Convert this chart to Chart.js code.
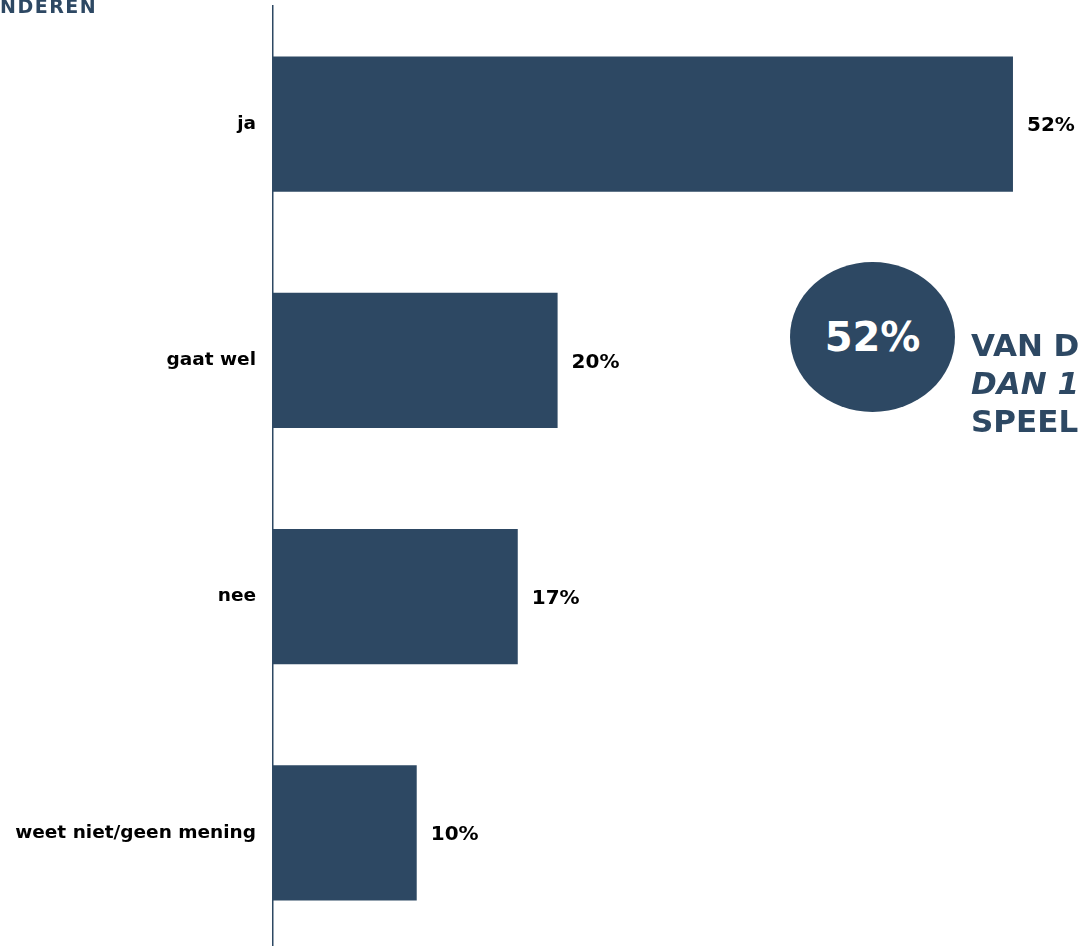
<!DOCTYPE html>
<html>
<head>
<meta charset="utf-8">
<script src="https://cdn.jsdelivr.net/npm/chart.js@4"></script>
<style>
  html, body { margin: 0; padding: 0; background: #fff; overflow: hidden; width: 1079px; height: 946px; }
  #wrap { position: relative; width: 1079px; height: 946px; overflow: hidden; }
  #barChart { position: absolute; left: 0; top: 0; }
  .title { position: absolute; left: 0; top: -5px; font: bold 19px "DejaVu Sans", sans-serif; color: #2d4863; white-space: nowrap; letter-spacing: 1.5px; }
  .bubble { position: absolute; left: 790px; top: 262px; width: 165px; height: 150px; border-radius: 50%; background: #2d4863;
            color: #fff; font: bold 40px "DejaVu Sans", sans-serif; display: flex; align-items: center; justify-content: center; }
  .side { position: absolute; left: 971px; top: 326px; font: bold 31px "DejaVu Sans", sans-serif; color: #2d4863; line-height: 38px; white-space: nowrap; }
</style>
</head>
<body>
<div id="wrap">
  <canvas id="barChart" width="1079" height="952"></canvas>
  <div class="title">NDEREN</div>
  <div class="bubble">52%</div>
  <div class="side">VAN DE<br><i>DAN 1</i><br>SPEEL</div>
</div>
<script>
// data
var categories = ['ja', 'gaat wel', 'nee', 'weet niet/geen mening'];
var values = [52, 20, 17.2, 10.1];
var valueLabels = ['52%', '20%', '17%', '10%'];

var navy = '#2d4863';

// value labels next to the bars
var barLabels = {
  id: 'barLabels',
  afterDatasetsDraw: function (chart) {
    var ctx = chart.ctx;
    var meta = chart.getDatasetMeta(0);
    ctx.save();
    ctx.font = 'bold 20px "DejaVu Sans"';
    ctx.fillStyle = '#000';
    ctx.textAlign = 'left';
    ctx.textBaseline = 'middle';
    meta.data.forEach(function (bar, i) {
      ctx.fillText(valueLabels[i], bar.x + 14, bar.y + 2);
    });
    ctx.restore();
  }
};

var barCtx = document.getElementById('barChart').getContext('2d');
var barChart = new Chart(barCtx, {
  type: 'bar',
  data: {
    labels: categories,
    datasets: [{
      data: values,
      backgroundColor: navy,
      categoryPercentage: 1,
      barPercentage: 0.572
    }]
  },
  options: {
    indexAxis: 'y',
    responsive: false,
    animation: false,
    layout: { padding: { top: 6, bottom: 1, right: 0 } },
    plugins: { legend: { display: false }, tooltip: { enabled: false } },
    scales: {
      x: { display: false, min: 0, max: 56.64 },
      y: {
        grid: { display: false },
        border: { display: true, color: navy, width: 1.5 },
        ticks: { color: '#000', padding: 9, font: { family: 'DejaVu Sans', weight: 'bold', size: 18.5 } },
        afterFit: function (scale) {
          scale.width = 273;
          scale.paddingTop = 0;
          scale.paddingBottom = 0;
        }
      }
    }
  },
  plugins: [barLabels]
});
</script>
</body>
</html>
